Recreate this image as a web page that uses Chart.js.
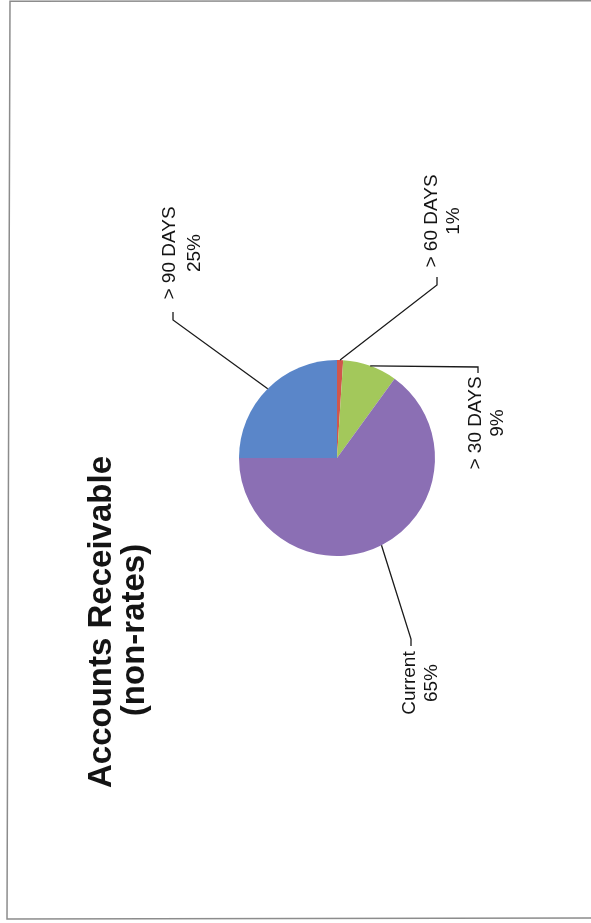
<!DOCTYPE html>
<html>
<head>
<meta charset="utf-8">
<title>Accounts Receivable (non-rates)</title>
<script src="https://cdn.jsdelivr.net/npm/chart.js@4.4.1/dist/chart.umd.min.js"></script>
<style>
    html, body { margin: 0; padding: 0; background: #ffffff; }
    canvas { display: block; }
</style>
</head>
<body>
<canvas id="arChart" width="591" height="923"></canvas>
<script>
const categories = ['> 90 DAYS', '> 60 DAYS', '> 30 DAYS', 'Current'];
const shares = [25, 1, 9, 65];
const titleLines = ['Accounts Receivable', '(non-rates)'];

const sliceColors = ['#5a86c9', '#d0564c', '#a3c85b', '#8b6fb4'];

// where each label sits (rotated text, reads bottom to top)
// base1/base2 = baseline x of the two lines, cy = centre along the text, tick = leader end
const labelSpots = [
    { base1: 175, base2: 200, cy: 253, tick: [173, 320, 173, 312] },
    { base1: 437, base2: 459, cy: 221, tick: [437, 285, 437, 277] },
    { base1: 481, base2: 503, cy: 423, tick: [478, 367, 478, 373] },
    { base1: 415, base2: 437, cy: 683, tick: [411, 639, 411, 646] }
];

const drawRotated = (ctx, text, x, y) => {
    ctx.save();
    ctx.translate(x, y);
    ctx.rotate(-Math.PI / 2);
    ctx.fillText(text, 0, 0);
    ctx.restore();
};

const pageDecor = {
    id: 'pageDecor',
    afterDraw(chart) {
        const ctx = chart.ctx;
        ctx.save();

        // scanned page frame
        ctx.strokeStyle = '#8c8c8c';
        ctx.lineWidth = 1.5;
        ctx.beginPath();
        ctx.moveTo(591, 0.8);
        ctx.lineTo(10, 1.2);
        ctx.lineTo(7, 919);
        ctx.lineTo(591, 918);
        ctx.stroke();

        // title
        ctx.fillStyle = '#141414';
        ctx.textAlign = 'center';
        ctx.textBaseline = 'alphabetic';
        ctx.font = "bold 33px 'Liberation Sans', Arial, sans-serif";
        drawRotated(ctx, titleLines[0], 111, 622);
        drawRotated(ctx, titleLines[1], 144, 630);

        // leader lines + labels
        const meta = chart.getDatasetMeta(0);
        ctx.font = "19px 'Liberation Sans', Arial, sans-serif";
        ctx.strokeStyle = '#1a1a1a';
        ctx.lineWidth = 1.3;
        meta.data.forEach((arc, i) => {
            const p = arc.getProps(['x', 'y', 'startAngle', 'endAngle', 'outerRadius'], true);
            const mid = (p.startAngle + p.endAngle) / 2;
            const ax = p.x + Math.cos(mid) * p.outerRadius;
            const ay = p.y + Math.sin(mid) * p.outerRadius;
            const spot = labelSpots[i];

            ctx.beginPath();
            ctx.moveTo(ax, ay);
            ctx.lineTo(spot.tick[0], spot.tick[1]);
            ctx.lineTo(spot.tick[2], spot.tick[3]);
            ctx.stroke();

            drawRotated(ctx, categories[i], spot.base1, spot.cy);
            drawRotated(ctx, `${shares[i]}%`, spot.base2, spot.cy);
        });

        ctx.restore();
    }
};

// pie centre ~ (337, 458), radius ~ 98
new Chart(document.getElementById('arChart'), {
    type: 'pie',
    data: {
        labels: categories,
        datasets: [{
            data: shares,
            backgroundColor: sliceColors,
            borderWidth: 0
        }]
    },
    options: {
        responsive: false,
        animation: false,
        rotation: -90,
        layout: {
            padding: { left: 239, right: 156, top: 360, bottom: 367 }
        },
        plugins: {
            legend: { display: false },
            tooltip: { enabled: false },
            title: { display: false }
        }
    },
    plugins: [pageDecor]
});
</script>
</body>
</html>
